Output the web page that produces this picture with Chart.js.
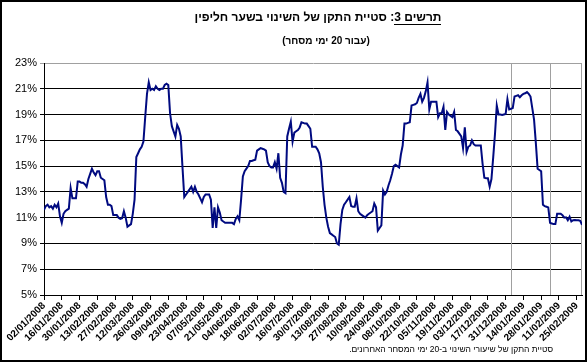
<!DOCTYPE html>
<html>
<head>
<meta charset="utf-8">
<script src="https://cdn.jsdelivr.net/npm/chart.js@4.4.1/dist/chart.umd.min.js"></script>
<style>
  body { margin: 0; background: #fff; }
</style>
</head>
<body>
<canvas id="grafico" width="587" height="362"></canvas>
<script>
// texts as word lists in logical order, laid out right to left by drawRtl()
var titleWords = ['תרשים', ' ', '3', ':', ' ', 'סטיית', ' ', 'התקן', ' ', 'של', ' ', 'השינוי', ' ', 'בשער', ' ', 'חליפין'];
var titleUnderlined = 3; // first three pieces: "תרשים 3"
var subtitleWords = ['(', 'עבור', ' ', '20', ' ', 'ימי', ' ', 'מסחר', ')'];
var footnoteWords = ['סטיית', ' ', 'התקן', ' ', 'של', ' ', 'שיעורי', ' ', 'השינוי', ' ', 'ב', '-', '20', ' ', 'ימי', ' ', 'המסחר', ' ', 'האחרונים', '.'];

var tickLabels = ['02/01/2008','16/01/2008','30/01/2008','13/02/2008','27/02/2008','12/03/2008','26/03/2008',
  '09/04/2008','23/04/2008','07/05/2008','21/05/2008','04/06/2008','18/06/2008','02/07/2008','16/07/2008',
  '30/07/2008','13/08/2008','27/08/2008','10/09/2008','24/09/2008','08/10/2008','22/10/2008','05/11/2008',
  '19/11/2008','03/12/2008','17/12/2008','31/12/2008','14/01/2009','28/01/2009','11/02/2009','25/02/2009'];

// std dev of the exchange rate change, one value per trading day (%)
var stdDev = [
  11.6, 11.9, 12.0, 11.8, 11.9, 11.7, 12.0, 11.8, 12.1, 11.1,
  10.6, 11.3, 11.5, 11.6, 11.7, 13.3, 12.5, 12.5, 12.5, 13.8,
  13.8, 13.7, 13.7, 13.6, 13.4, 14.0, 14.4, 14.8, 14.5, 14.3,
  14.6, 14.6, 14.1, 14.0, 13.9, 12.6, 12.0, 12.0, 11.9, 11.2,
  11.2, 11.2, 11.0, 10.9, 10.95, 11.5, 11.0, 10.3, 10.4, 10.5,
  11.3, 12.4, 15.7, 16.0, 16.3, 16.5, 16.9, 18.8, 20.6, 21.5,
  20.9, 21.0, 20.9, 21.2, 21.0, 20.9, 21.0, 21.0, 21.3, 21.4,
  21.3, 19.1, 18.1, 17.7, 17.3, 18.2, 17.9, 17.3, 14.9, 12.6,
  12.8, 13.0, 13.2, 13.4, 13.0, 13.4, 13.0, 12.8, 12.5, 12.2,
  12.6, 12.8, 12.8, 12.8, 12.4, 10.2, 11.8, 10.2, 11.8, 11.4,
  10.8, 10.7, 10.6, 10.6, 10.6, 10.6, 10.6, 10.5, 10.9, 11.1,
  10.8, 12.4, 14.2, 14.6, 14.8, 15.0, 15.4, 15.4, 15.45, 15.5,
  16.2, 16.3, 16.4, 16.35, 16.3, 16.2, 15.3, 15.0, 14.9, 14.9,
  15.3, 14.8, 16.0, 14.1, 13.7, 13.0, 12.9, 17.3, 17.9, 18.45,
  16.9, 17.6, 17.7, 17.8, 18.0, 18.4, 18.35, 18.3, 18.3, 18.1,
  17.9, 16.5, 16.5, 16.5, 16.3, 16.0, 15.3, 13.4, 12.0, 11.0,
  10.3, 9.8, 9.7, 9.6, 9.5, 9.0, 8.9, 10.5, 11.6, 12.0,
  12.2, 12.4, 12.6, 11.9, 11.85, 11.85, 12.5, 11.5, 11.3, 11.2,
  11.1, 11.0, 11.2, 11.3, 11.4, 11.5, 12.1, 11.8, 10.0, 10.2,
  10.4, 13.1, 12.8, 13.0, 13.5, 13.9, 14.4, 15.0, 15.1, 15.0,
  14.9, 15.9, 16.6, 18.3, 18.3, 18.35, 18.4, 19.7, 19.75, 19.8,
  19.9, 20.3, 20.6, 20.0, 20.3, 20.8, 21.5, 19.4, 20.0, 20.0,
  20.0, 20.0, 18.8, 19.1, 19.1, 19.6, 17.8, 19.2, 19.0, 18.9,
  18.8, 19.2, 17.8, 17.7, 17.5, 17.3, 16.4, 18.0, 16.1, 16.5,
  16.6, 17.0, 16.7, 16.6, 16.6, 16.6, 16.6, 15.2, 14.1, 14.05,
  14.05, 13.4, 14.0, 15.7, 17.5, 19.7, 19.0, 19.0, 18.96, 19.0,
  19.04, 20.2, 19.4, 19.45, 19.5, 20.4, 20.45, 20.5, 20.35, 20.5,
  20.6, 20.65, 20.75, 20.6, 20.4, 19.5, 18.6, 16.8, 14.8, 14.7,
  14.6, 12.0, 11.9, 11.85, 11.8, 10.6, 10.55, 10.5, 10.5, 11.3,
  11.3, 11.3, 11.2, 11.0, 11.03, 10.8, 11.07, 10.7, 10.8, 10.82,
  10.8, 10.8, 10.75, 10.45
];

// trading days marked with a thin grey line
var markerDays = [263, 285];

var FONT = "'Liberation Sans', Arial, sans-serif";
var MIRROR = { '(': ')', ')': '(' };

// lays the pieces out right to left; returns the left/right x of each piece
function drawRtl(ctx, words, x, y, align){
  var widths = words.map(function(w){ return ctx.measureText(w).width; });
  var total = widths.reduce(function(a, b){ return a + b; }, 0);
  var cur = align === 'right' ? x : x + total / 2;
  var boxes = [];
  ctx.textAlign = 'left';
  ctx.textBaseline = 'middle';
  words.forEach(function(w, i){
    cur -= widths[i];
    if (w !== ' ') ctx.fillText(MIRROR[w] || w, cur, y);
    boxes.push({ left: cur, right: cur + widths[i] });
  });
  return boxes;
}

var extras = {
  id: 'extras',
  beforeDatasetsDraw: function(chart){
    var ctx = chart.ctx, a = chart.chartArea, x = chart.scales.x;
    ctx.save();
    ctx.strokeStyle = '#a0a0a0';
    ctx.lineWidth = 1;
    markerDays.forEach(function(d){
      var px = Math.round(x.getPixelForValue(d)) + 0.5;
      ctx.beginPath();
      ctx.moveTo(px, a.top);
      ctx.lineTo(px, a.bottom);
      ctx.stroke();
    });
    var r = Math.round(a.right) - 0.5;
    ctx.beginPath();
    ctx.moveTo(r, a.top);
    ctx.lineTo(r, a.bottom);
    ctx.stroke();
    ctx.restore();
  },
  afterDraw: function(chart){
    var ctx = chart.ctx;
    ctx.save();
    ctx.direction = 'ltr';
    ctx.fillStyle = '#000';
    // title with "תרשים 3" underlined
    ctx.font = 'bold 12px ' + FONT;
    var b = drawRtl(ctx, titleWords, 318, 18);
    var uL = b[titleUnderlined - 1].left, uR = b[0].right;
    ctx.fillRect(Math.round(uL), 24, Math.round(uR - uL), 1);
    // subtitle
    ctx.font = 'bold 10px ' + FONT;
    drawRtl(ctx, subtitleWords, 326, 41);
    // footnote
    ctx.font = '8.5px ' + FONT;
    drawRtl(ctx, footnoteWords, 553, 350, 'right');
    // frame
    ctx.strokeStyle = '#000';
    ctx.lineWidth = 2;
    ctx.strokeRect(1, 1, chart.width - 2, chart.height - 2);
    ctx.restore();
  }
};

var chart = new Chart(document.getElementById('grafico'), {
  type: 'line',
  data: {
    datasets: [{
      data: stdDev.map(function(v, i){ return {x: i, y: v}; }),
      borderColor: '#000a80',
      borderWidth: 2,
      pointRadius: 0,
      tension: 0
    }]
  },
  options: {
    responsive: false,
    animation: false,
    layout: { padding: { left: 0, right: 5, top: 63, bottom: 0 } },
    plugins: {
      legend: { display: false },
      tooltip: { enabled: false }
    },
    scales: {
      x: {
        type: 'linear',
        min: 0,
        max: stdDev.length - 1,
        afterFit: function(s){ s.height = 67; s.paddingLeft = 0; s.paddingRight = 0; },
        grid: { drawOnChartArea: false, drawTicks: true, tickLength: 5, color: '#000' },
        border: { color: '#000', width: 1 },
        ticks: {
          stepSize: 10,
          includeBounds: false,
          autoSkip: false,
          minRotation: 45,
          maxRotation: 45,
          padding: 0,
          color: '#000',
          font: { family: FONT, size: 10, weight: 'bold' },
          callback: function(v){ return tickLabels[v / 10]; }
        }
      },
      y: {
        min: 5,
        max: 23,
        afterFit: function(s){ s.width = 44; s.paddingTop = 0; s.paddingBottom = 0; },
        grid: {
          color: function(c){ return c.tick && c.tick.value === 23 ? '#a0a0a0' : '#000'; },
          tickLength: 4
        },
        border: { color: '#000', width: 1 },
        ticks: {
          stepSize: 2,
          padding: 3,
          color: '#000',
          font: { family: FONT, size: 11 },
          callback: function(v){ return v + '%'; }
        }
      }
    }
  },
  plugins: [extras]
});
</script>
</body>
</html>
